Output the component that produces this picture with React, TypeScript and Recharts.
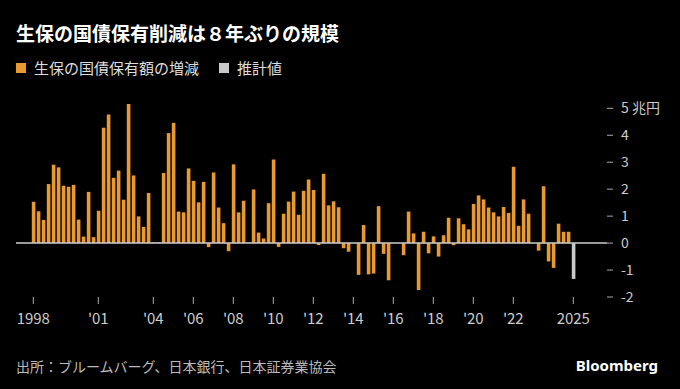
import React from 'react';
import { BarChart, Bar, XAxis, YAxis, ReferenceLine } from 'recharts';

// quarterly change in JGB holdings of life insurers, trillion yen, 1998Q1 - 2024Q4
const changes = [
    1.53, 1.18, 0.86, 2.19, 2.91, 2.81, 2.13, 2.09, 2.16, 0.87, 0.24, 1.9,
    0.22, 1.2, 4.28, 4.77, 2.42, 2.69, 1.61, 5.16, 2.51, 0.99, 0.6, 1.86,
    0.03, 0.03, 2.6, 4.08, 4.46, 1.17, 1.14, 2.77, 2.31, 1.51, 2.27, -0.15,
    2.62, 1.32, 0.74, -0.3, 2.92, 1.14, 1.57, 0.02, 1.99, 0.39, 0.17, 1.48,
    3.1, -0.14, 1.09, 1.54, 1.91, 1.05, 1.94, 2.36, 1.97, -0.07, 2.57, 1.4,
    1.55, 1.33, -0.19, -0.32, 0, -1.18, 0.67, -1.16, -1.13, 1.37, -0.4, -1.38,
    0, 0, -0.45, 1.17, 0.36, -1.74, 0.42, -0.38, 0.25, -0.5, 0.29, 0.94,
    -0.08, 0.92, 0.7, 0.51, 1.45, 1.77, 1.62, 1.32, 1.14, 0.99, 1.34, 1.12,
    2.83, 0.64, 1.62, 1.09, 0, -0.28, 2.11, -0.68, -0.92, 0.72, 0.42, 0.42,
];

// estimate for the latest quarter (2025Q1)
const estimate = -1.33;

const startYear = 1998;

const xTickLabels: Record<string, string> = {
    '1998Q1': '1998',
    '2001Q2': "'01",
    '2004Q1': "'04",
    '2006Q1': "'06",
    '2008Q1': "'08",
    '2010Q1': "'10",
    '2012Q1': "'12",
    '2014Q1': "'14",
    '2016Q1': "'16",
    '2018Q1': "'18",
    '2020Q1': "'20",
    '2022Q1': "'22",
    '2025Q1': '2025',
};

const yTicks = [-2, -1, 0, 1, 2, 3, 4, 5];

const quarterKey = (i: number) => `${startYear + Math.floor(i / 4)}Q${(i % 4) + 1}`;

const data = [
    ...changes.map((v, i) => ({ q: quarterKey(i), actual: v, est: null as number | null })),
    { q: quarterKey(changes.length), actual: null as number | null, est: estimate },
];

const FONT = '"Noto Sans CJK JP", "Noto Sans", sans-serif';
const ORANGE = '#E8992F';
const GREY = '#C9C9C9';

const App: React.FC = () => {
    return (
        <div
            style={{
                position: 'absolute',
                top: 0,
                left: 0,
                width: 680,
                height: 389,
                background: '#000',
                fontFamily: FONT,
                overflow: 'hidden',
            }}
        >
            {/* Title */}
            <div
                style={{
                    position: 'absolute',
                    left: 16,
                    top: 23,
                    fontSize: 19,
                    lineHeight: '20px',
                    fontWeight: 700,
                    color: '#fff',
                    whiteSpace: 'nowrap',
                }}
            >
                生保の国債保有削減は８年ぶりの規模
            </div>

            {/* Legend */}
            <div
                style={{
                    position: 'absolute',
                    left: 16,
                    top: 59,
                    display: 'flex',
                    alignItems: 'center',
                    fontSize: 15,
                    lineHeight: '18px',
                    color: '#ddd',
                    whiteSpace: 'nowrap',
                }}
            >
                <span style={{ width: 10, height: 10, background: ORANGE, marginRight: 8 }} />
                <span>生保の国債保有額の増減</span>
                <span style={{ width: 10, height: 10, background: GREY, marginLeft: 20, marginRight: 8 }} />
                <span>推計値</span>
            </div>

            <div style={{ position: 'absolute', left: 0, top: 0 }}>
                <BarChart
                    width={680}
                    height={389}
                    data={data}
                    margin={{ top: 104, right: 13, bottom: 52, left: 16 }}
                >
                    <XAxis
                        dataKey="q"
                        ticks={Object.keys(xTickLabels)}
                        tickFormatter={(v: string) => xTickLabels[v] ?? ''}
                        interval={0}
                        height={40}
                        padding={{ left: 14.8, right: 31.2 }}
                        axisLine={false}
                        tickLine={{ stroke: '#aaa' }}
                        tickSize={7}
                        tickMargin={9}
                        tick={{ fill: '#ccc', fontSize: 15, fontFamily: FONT }}
                    />
                    <YAxis
                        orientation="right"
                        domain={[-2, 5]}
                        ticks={yTicks}
                        interval={0}
                        width={60}
                        axisLine={false}
                        tickLine={{ stroke: '#aaa' }}
                        tickSize={6}
                        tickMargin={8}
                        tickFormatter={(v: number) => (v === 5 ? '5 兆円' : String(v))}
                        tick={{ fill: '#ccc', fontSize: 14, fontFamily: FONT, textAnchor: 'start' }}
                    />
                    <ReferenceLine y={0} stroke="#ccc" strokeWidth={1.5} />
                    <Bar dataKey="actual" stackId="a" fill={ORANGE} barSize={3.6} isAnimationActive={false} />
                    <Bar dataKey="est" stackId="a" fill={GREY} barSize={3.6} isAnimationActive={false} />
                </BarChart>
            </div>

            {/* Source */}
            <div
                style={{
                    position: 'absolute',
                    left: 16,
                    top: 357,
                    fontSize: 14,
                    lineHeight: '18px',
                    color: '#bbb',
                    whiteSpace: 'nowrap',
                }}
            >
                出所：ブルームバーグ、日本銀行、日本証券業協会
            </div>
            <div
                style={{
                    position: 'absolute',
                    right: 22,
                    top: 356,
                    fontSize: 15,
                    lineHeight: '18px',
                    fontWeight: 700,
                    color: '#fff',
                    fontFamily: '"Noto Sans", sans-serif',
                }}
            >
                Bloomberg
            </div>
        </div>
    );
};

export default App;
